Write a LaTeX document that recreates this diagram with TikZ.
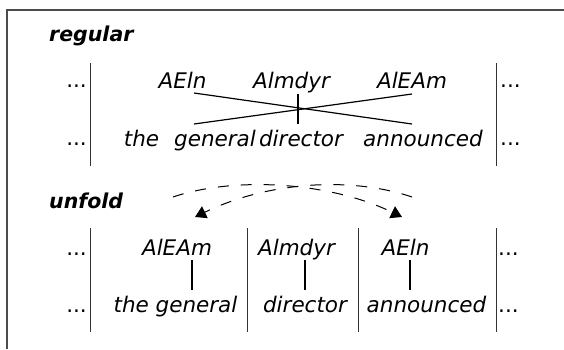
\documentclass[tikz,border=0pt]{standalone}
\usepackage{fontspec}
\setmainfont{DejaVu Sans}
\usetikzlibrary{arrows.meta}
\tikzset{
  word/.style={inner sep=0pt, anchor=base, font=\fontsize{21.5}{24}\selectfont\itshape},
  title/.style={inner sep=0pt, anchor=base west, font=\fontsize{20.5}{24}\selectfont\bfseries\itshape},
  dots/.style={inner sep=0pt, font=\fontsize{21.5}{24}\selectfont},
  bar/.style={line width=0.9pt, black!80},
  link/.style={line width=1.2pt},
  frame/.style={line width=1.3pt, black!70},
  swap/.style={line width=1pt, dash pattern=on 11pt off 12pt, -{Triangle[length=11pt,width=13pt]}}
}
\begin{document}
\begin{tikzpicture}[x=1pt,y=-1pt]
\useasboundingbox (0,0) rectangle (564,349);
% frame
\coordinate (fTL) at (7,10);
\coordinate (fTR) at (564,10);
\coordinate (fBL) at (7,349);
\draw[frame] (fTR) -- (fTL) -- (fBL);

% ===== regular =====
\node[title] (tReg) at (49,41) {regular};
\coordinate (b1t) at (90,63);  \coordinate (b1b) at (90,166);
\coordinate (b2t) at (496,63); \coordinate (b2b) at (496,166);
\draw[bar] (b1t) -- (b1b);
\draw[bar] (b2t) -- (b2b);
\node[dots, anchor=base east] (d1) at (87,87) {...};
\node[dots, anchor=base east] (d2) at (87,145) {...};
\node[dots, anchor=base west] (d3) at (500,87) {...};
\node[dots, anchor=base west] (d4) at (500,145) {...};

\node[word] (rA) at (182.5,88) {AEln};
\node[word] (rB) at (291.5,88) {Almdyr};
\node[word] (rC) at (412,88) {AlEAm};
\node[word] (rThe) at (141.5,146) {the};
\node[word] (rGen) at (215,146) {general};
\node[word] (rDir) at (301,146) {director};
\node[word] (rAnn) at (423,146) {announced};

\coordinate (x1a) at (194,93);  \coordinate (x1b) at (412,124);
\coordinate (x2a) at (412,94);  \coordinate (x2b) at (194,124);
\coordinate (x3a) at (298,94);  \coordinate (x3b) at (298,124);
\draw[link] (x1a) -- (x1b);
\draw[link] (x2a) -- (x2b);
\draw[link] (x3a) -- (x3b);

% ===== unfold =====
\node[title] (tUnf) at (49,208) {unfold};
\coordinate (c1t) at (90,228);  \coordinate (c1b) at (90,332);
\coordinate (c2t) at (247,228); \coordinate (c2b) at (247,332);
\coordinate (c3t) at (358,228); \coordinate (c3b) at (358,332);
\coordinate (c4t) at (496,228); \coordinate (c4b) at (496,332);
\draw[bar] (c1t) -- (c1b);
\draw[bar] (c2t) -- (c2b);
\draw[bar] (c3t) -- (c3b);
\draw[bar] (c4t) -- (c4b);
\node[dots, anchor=base east] (e1) at (87,255) {...};
\node[dots, anchor=base east] (e2) at (87,312) {...};
\node[dots, anchor=base west] (e3) at (498,255) {...};
\node[dots, anchor=base west] (e4) at (498,312) {...};

\node[word] (uC) at (177,255) {AlEAm};
\node[word] (uB) at (296.5,255) {Almdyr};
\node[word] (uA) at (405.5,255) {AEln};
\node[word] (uGen) at (175.5,312) {the general};
\node[word] (uDir) at (305,312) {director};
\node[word] (uAnn) at (426.5,312) {announced};

\coordinate (l1a) at (192,260); \coordinate (l1b) at (192,290);
\coordinate (l2a) at (305,260); \coordinate (l2b) at (305,290);
\coordinate (l3a) at (410,260); \coordinate (l3b) at (410,290);
\draw[link] (l1a) -- (l1b);
\draw[link] (l2a) -- (l2b);
\draw[link] (l3a) -- (l3b);

% swap arrows
\coordinate (sL) at (173,197);
\coordinate (sR) at (412,197);
\coordinate (tL) at (195,217);
\coordinate (tR) at (402,217);
\draw[swap] (sL) .. controls (235,176) and (330,182) .. (tR);
\draw[swap] (sR) .. controls (350,176) and (267,182) .. (tL);
\end{tikzpicture}
\end{document}
